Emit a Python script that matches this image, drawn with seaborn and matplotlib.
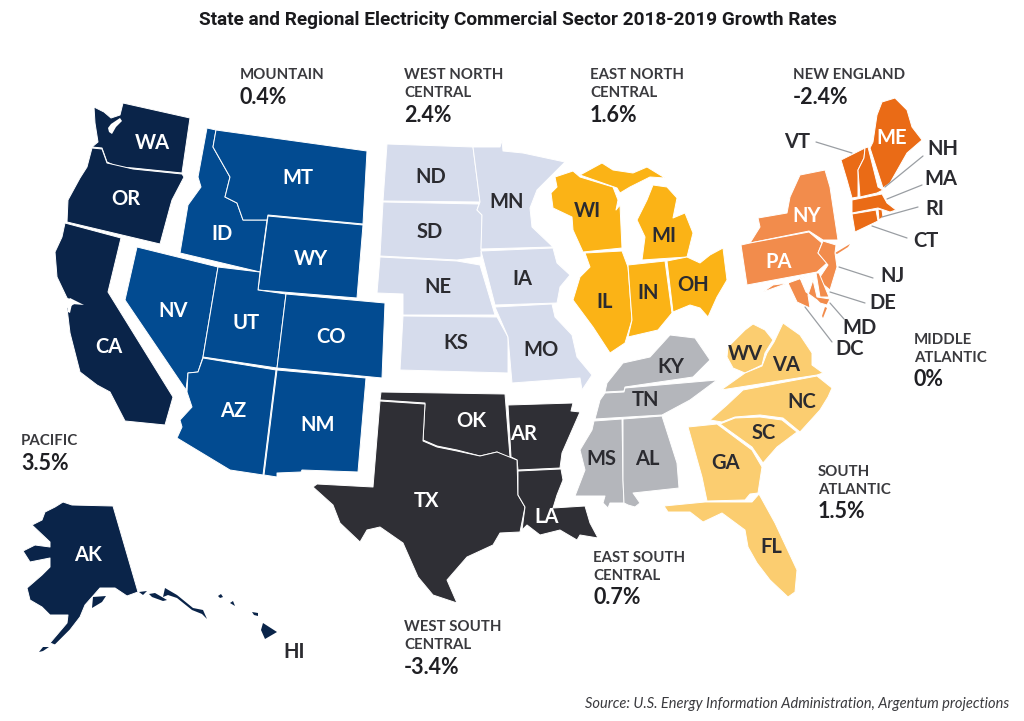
# plot.py
import matplotlib
matplotlib.use("Agg")
import matplotlib.pyplot as plt
import seaborn as sns

# region names and growth rates
region_names = ["PACIFIC", "MOUNTAIN", "WEST NORTH\nCENTRAL", "EAST NORTH\nCENTRAL", "NEW ENGLAND",
                "MIDDLE\nATLANTIC", "SOUTH\nATLANTIC", "EAST SOUTH\nCENTRAL", "WEST SOUTH\nCENTRAL"]
region_rates = ["3.5%", "0.4%", "2.4%", "1.6%", "-2.4%", "0%", "1.5%", "0.7%", "-3.4%"]
region_colors = ["#0a2449", "#024b91", "#d6dcec", "#fbb316", "#ea6b16",
                 "#f28c4c", "#fbcd70", "#b4b6bb", "#2f2f35"]
region_text_xy = [(21, 441), (240, 75), (404, 75), (590, 75), (793, 75),
                  (914, 340), (818, 472), (593, 558), (404, 627)]

# state outlines
WA = [(94, 107), (104, 112), (111, 118), (120, 115), (123, 103), (190, 118), (182, 173),
      (133, 168), (118, 167), (107, 162), (102, 148), (92, 147), (98, 142), (95, 123)]
OR = [(92, 148), (102, 149), (107, 163), (133, 169), (182, 174), (184, 177), (172, 200), (170, 207),
      (160, 244), (67, 222), (68, 200), (80, 178), (87, 167)]
CA = [(65, 223), (121, 238), (108, 292), (173, 397), (165, 425), (125, 421), (110, 392), (97, 385),
      (80, 372), (70, 333), (67, 308), (75, 303), (67, 298), (57, 277), (55, 252), (62, 237)]
AK = [(63, 502), (72, 505), (113, 506), (138, 592), (127, 596), (115, 588), (100, 588), (85, 605),
      (80, 617), (70, 630), (55, 645), (50, 643), (67, 623), (68, 615), (50, 615), (42, 607),
      (30, 600), (27, 588), (42, 575), (50, 567), (50, 558), (30, 562), (23, 551), (35, 545),
      (50, 547), (50, 542), (32, 525), (42, 520), (45, 512), (55, 507)]
AK_KODIAK = [(92, 608), (93, 597), (106, 596), (102, 602)]
AK_CHAIN_A = [(39, 652), (43, 647), (49, 647), (43, 651)]
AK_CHAIN_B = [(139, 592), (147, 591), (143, 595)]
AK_CHAIN_C = [(149, 594), (155, 593), (167, 600), (163, 601), (152, 597)]
AK_CHAIN_D = [(163, 597), (165, 588), (177, 595), (193, 608), (203, 610), (207, 619), (202, 614),
              (192, 610), (177, 598), (168, 595)]
HI = [(263, 623), (277, 632), (265, 639), (261, 630)]
HI_B = [(218, 596), (221, 594), (223, 597), (220, 598)]
HI_C = [(230, 603), (233, 601), (235, 606)]
HI_D = [(252, 612), (258, 613), (258, 616), (254, 615)]

ID = [(207, 128), (216, 130), (213, 147), (230, 177), (225, 197), (237, 203), (243, 220), (267, 220),
      (260, 272), (180, 253), (188, 205), (201, 187), (198, 177)]
MT = [(216, 130), (367, 151), (363, 224), (268, 215), (267, 220), (243, 220), (237, 203), (225, 197),
      (230, 177), (213, 147)]
WY = [(268, 216), (363, 225), (357, 298), (258, 290)]
NV = [(137, 247), (218, 267), (203, 357), (198, 372), (188, 373), (186, 390), (125, 300)]
UT = [(218, 267), (260, 272), (258, 290), (286, 294), (277, 368), (203, 357)]
CO = [(286, 294), (385, 303), (382, 378), (277, 368)]
AZ = [(203, 358), (276, 370), (263, 475), (230, 470), (177, 438), (182, 427), (180, 420), (192, 407),
      (187, 392), (188, 373), (198, 372)]
NM = [(277, 370), (366, 378), (358, 472), (302, 470), (301, 472), (277, 473), (277, 477), (264, 475)]

ND = [(387, 144), (473, 147), (480, 202), (383, 201)]
SD = [(383, 202), (479, 204), (477, 210), (482, 215), (481, 257), (457, 260), (380, 256)]
NE = [(380, 257), (457, 261), (480, 265), (495, 315), (403, 315), (403, 294), (377, 293)]
KS = [(403, 316), (497, 317), (508, 337), (508, 373), (400, 370)]
MN = [(473, 147), (500, 147), (502, 140), (503, 151), (523, 153), (565, 162), (537, 190), (530, 208),
      (532, 227), (553, 247), (481, 249), (482, 215), (477, 210), (480, 202)]
IA = [(481, 251), (553, 248), (557, 263), (570, 275), (560, 287), (557, 303), (495, 305)]
MO = [(495, 307), (552, 304), (555, 317), (572, 335), (577, 357), (592, 375), (582, 390), (580, 378),
      (512, 383), (508, 337)]

WI = [(555, 177), (573, 171), (580, 177), (613, 187), (618, 200), (616, 210), (620, 205), (622, 248),
      (583, 252), (573, 230), (572, 217), (553, 208), (551, 193), (557, 187)]
MI_UP = [(580, 175), (602, 163), (613, 170), (633, 173), (647, 167), (665, 178), (650, 177), (630, 187),
         (620, 193), (617, 188)]
MI = [(653, 185), (667, 187), (677, 198), (673, 218), (685, 213), (693, 233), (687, 257), (642, 260),
      (645, 237), (637, 220), (647, 200)]
IL = [(585, 253), (622, 251), (628, 267), (632, 320), (625, 343), (610, 353), (593, 327), (573, 300),
      (580, 277), (590, 267)]
IN = [(628, 265), (665, 261), (672, 313), (658, 330), (628, 337), (632, 320)]
OH = [(667, 261), (687, 257), (700, 263), (710, 255), (723, 248), (727, 280), (717, 297), (708, 317),
      (700, 308), (690, 305), (673, 312)]

NY = [(825, 170), (830, 187), (838, 240), (823, 240), (809, 231), (750, 243), (760, 227), (758, 218),
      (787, 213), (790, 197), (800, 175)]
PA = [(741, 245), (750, 243), (809, 232), (822, 243), (818, 253), (827, 263), (817, 272), (747, 285)]
LONG_ISLAND = [(835, 253), (850, 244), (848, 247), (837, 254)]
NJ = [(823, 241), (836, 245), (835, 253), (837, 267), (830, 290), (818, 280), (828, 265), (818, 253)]
MD = [(763, 292), (773, 285), (788, 283), (797, 302), (810, 308), (808, 295), (813, 280), (817, 297),
      (830, 299), (827, 305), (820, 303), (817, 300), (806, 292), (800, 278), (816, 273)]
DE = [(816, 273), (819, 273), (829, 297), (820, 297)]
VA_TIP = [(825, 307), (827, 308), (823, 318), (822, 316)]

VT = [(841, 160), (865, 148), (864, 158), (858, 170), (858, 197), (852, 198), (847, 180)]
NH = [(865, 148), (868, 147), (878, 187), (883, 190), (877, 193), (860, 197), (858, 170), (864, 158)]
ME = [(877, 115), (882, 102), (895, 98), (907, 110), (912, 127), (922, 140), (907, 153), (890, 183),
      (883, 188), (870, 148), (873, 142)]
MA = [(852, 200), (882, 194), (887, 203), (896, 210), (890, 212), (878, 208), (852, 213)]
CT = [(852, 214), (876, 210), (878, 221), (855, 232)]
RI = [(878, 209), (882, 210), (883, 217), (879, 220)]

WV = [(728, 347), (745, 330), (753, 324), (765, 330), (773, 340), (765, 353), (762, 365), (745, 373),
      (733, 368), (727, 357)]
VA = [(721, 390), (745, 373), (762, 366), (767, 353), (774, 342), (783, 323), (800, 335), (812, 353),
      (812, 365), (823, 373), (817, 375)]
NC = [(817, 376), (832, 388), (828, 397), (820, 410), (800, 432), (783, 418), (760, 415), (735, 417),
      (722, 422), (710, 420), (727, 405), (743, 390)]
SC = [(720, 424), (735, 418), (760, 417), (782, 420), (797, 432), (777, 447), (763, 463), (752, 447)]
GA = [(688, 427), (717, 424), (752, 450), (762, 467), (758, 493), (750, 494), (745, 500), (707, 501),
      (702, 477)]
FL = [(664, 506), (705, 502), (752, 502), (759, 494), (775, 523), (797, 570), (795, 592), (788, 597),
      (770, 580), (757, 563), (748, 547), (745, 530), (722, 513), (703, 522), (690, 512), (668, 512)]

KY = [(605, 392), (607, 383), (623, 363), (650, 357), (670, 335), (695, 338), (710, 360), (693, 377),
      (625, 387), (624, 391)]
TN = [(605, 393), (624, 392), (625, 388), (717, 380), (690, 400), (662, 415), (595, 419), (600, 400)]
MS = [(594, 421), (622, 419), (623, 480), (624, 503), (610, 503), (608, 508), (603, 503), (605, 496),
      (575, 496), (585, 470), (580, 450), (592, 430)]
AL = [(623, 419), (662, 416), (677, 463), (679, 488), (633, 493), (640, 503), (635, 507), (628, 505),
      (624, 503), (623, 480)]

OK = [(381, 392), (505, 394), (510, 457), (513, 460), (497, 452), (480, 456), (457, 450), (437, 446),
      (423, 440), (425, 403), (380, 400)]
AR = [(508, 405), (573, 403), (571, 411), (580, 412), (562, 453), (560, 468), (518, 470), (517, 460),
      (511, 457)]
TX = [(380, 401), (425, 404), (423, 441), (437, 447), (457, 451), (480, 456), (497, 452), (517, 460),
      (518, 495), (525, 507), (520, 532), (500, 533), (493, 545), (467, 557), (447, 580), (457, 603),
      (433, 595), (418, 577), (403, 543), (380, 527), (367, 530), (360, 542), (340, 523), (333, 505),
      (313, 487), (317, 484), (373, 487)]
LA = [(518, 471), (561, 469), (563, 480), (557, 495), (553, 508), (585, 506), (590, 523), (598, 538),
      (580, 535), (577, 540), (560, 530), (540, 535), (527, 525), (522, 530), (525, 507), (518, 495)]

# white water cut into the states
PUGET = [(108, 128), (111, 124), (120, 118), (122, 121), (116, 127), (112, 134), (109, 132)]
SF_BAY = [(67, 301), (70, 298), (84, 305), (72, 304), (70, 313), (68, 312)]
water_shapes = [PUGET, SF_BAY]

region_shapes = [
    [WA, OR, CA, AK, AK_KODIAK, AK_CHAIN_A, AK_CHAIN_B, AK_CHAIN_C, AK_CHAIN_D, HI, HI_B, HI_C, HI_D],
    [ID, MT, WY, NV, UT, CO, AZ, NM],
    [ND, SD, NE, KS, MN, IA, MO],
    [WI, MI_UP, MI, IL, IN, OH],
    [VT, NH, ME, MA, CT, RI],
    [NY, PA, LONG_ISLAND, NJ, MD, DE, VA_TIP],
    [WV, VA, NC, SC, GA, FL],
    [KY, TN, MS, AL],
    [OK, AR, TX, LA],
]
# these are too small to carry a white edge
small_shapes = [AK_KODIAK, AK_CHAIN_A, AK_CHAIN_B, AK_CHAIN_C, AK_CHAIN_D, HI, HI_B, HI_C, HI_D,
                LONG_ISLAND, VA_TIP]

# state labels: name, x, y
light_labels = [("WA", 152, 143), ("OR", 126, 199), ("CA", 109, 347), ("AK", 88, 555), ("ID", 222, 234),
                ("MT", 298, 178), ("WY", 311, 259), ("NV", 173, 311), ("UT", 246, 323), ("CO", 331, 337),
                ("AZ", 233, 411), ("NM", 318, 425), ("NY", 807, 216), ("PA", 779, 262), ("ME", 892, 138),
                ("OK", 471, 421), ("AR", 524, 434), ("TX", 426, 501), ("LA", 547, 517)]
dark_labels = [("HI", 294, 652), ("ND", 431, 177), ("SD", 430, 232), ("NE", 438, 287), ("KS", 456, 343),
               ("MN", 507, 202), ("IA", 522, 279), ("MO", 541, 350), ("WI", 587, 211), ("MI", 664, 236),
               ("IL", 605, 302), ("IN", 648, 293), ("OH", 693, 285), ("VT", 797, 142), ("NH", 943, 149),
               ("MA", 941, 179), ("RI", 935, 209), ("CT", 926, 241), ("NJ", 893, 276), ("DE", 883, 303),
               ("MD", 860, 328), ("DC", 850, 349), ("KY", 671, 367), ("TN", 646, 400), ("MS", 601, 459),
               ("AL", 647, 459), ("WV", 745, 354), ("VA", 786, 365), ("NC", 802, 402), ("SC", 764, 433),
               ("GA", 726, 463), ("FL", 771, 547)]

# leader lines from small states to their labels
leader_x = [(816, 852), (923, 885), (922, 887), (918, 882), (907, 872), (873, 839), (865, 830), (844, 830), (832, 805)]
leader_y = [(142, 153), (156, 187), (185, 199), (207, 217), (238, 226), (278, 267), (303, 292), (319, 303), (342, 307)]

sns.set_theme(style="white")
plt.rcParams["font.family"] = ["Lato", "DejaVu Sans"]

fig = plt.figure(figsize=(10.24, 7.21), dpi=100)
ax = fig.add_axes([0, 0, 1, 1])

for shapes, color in zip(region_shapes, region_colors):
    for shape in shapes:
        xs, ys = zip(*shape)
        edge = 0 if shape in small_shapes else 0.7
        ax.fill(xs, ys, facecolor=color, edgecolor="white", linewidth=edge, joinstyle="round", zorder=2)

for shape in water_shapes:
    xs, ys = zip(*shape)
    ax.fill(xs, ys, facecolor="white", edgecolor="none", zorder=2.5)

for lx, ly in zip(leader_x, leader_y):
    sns.lineplot(x=list(lx), y=list(ly), sort=False, estimator=None, color="#9a9ea3", linewidth=0.9, ax=ax, zorder=3)

for name, x, y in light_labels:
    ax.text(x, y, name, color="white", fontsize=14.5, fontweight="bold", ha="center", va="center", zorder=4)
for name, x, y in dark_labels:
    ax.text(x, y, name, color="#2b2b30", fontsize=14.5, fontweight="bold", ha="center", va="center", zorder=4)

for name, rate, (x, y) in zip(region_names, region_rates, region_text_xy):
    lines = name.split("\n")
    for i, line in enumerate(lines):
        ax.text(x, y + i * 18, line, color="#3a3a3e", fontsize=10.8, fontweight="bold", ha="left", va="center")
    ax.text(x, y + (len(lines) - 1) * 18 + 22, rate, color="#1f1f23", fontsize=15.5, fontweight="bold",
            ha="left", va="center")

ax.text(518, 20, "State and Regional Electricity Commercial Sector 2018-2019 Growth Rates",
        fontsize=13.7, fontweight="bold", color="#1a1a1d", ha="center", va="center", family="Roboto")
ax.text(1009, 704, "Source: U.S. Energy Information Administration, Argentum projections",
        fontsize=10.5, style="italic", color="#3a3a3e", ha="right", va="center")

ax.set_xlim(0, 1024)
ax.set_ylim(721, 0)
ax.axis("off")
fig.savefig("out.png", dpi=100, facecolor="white")
